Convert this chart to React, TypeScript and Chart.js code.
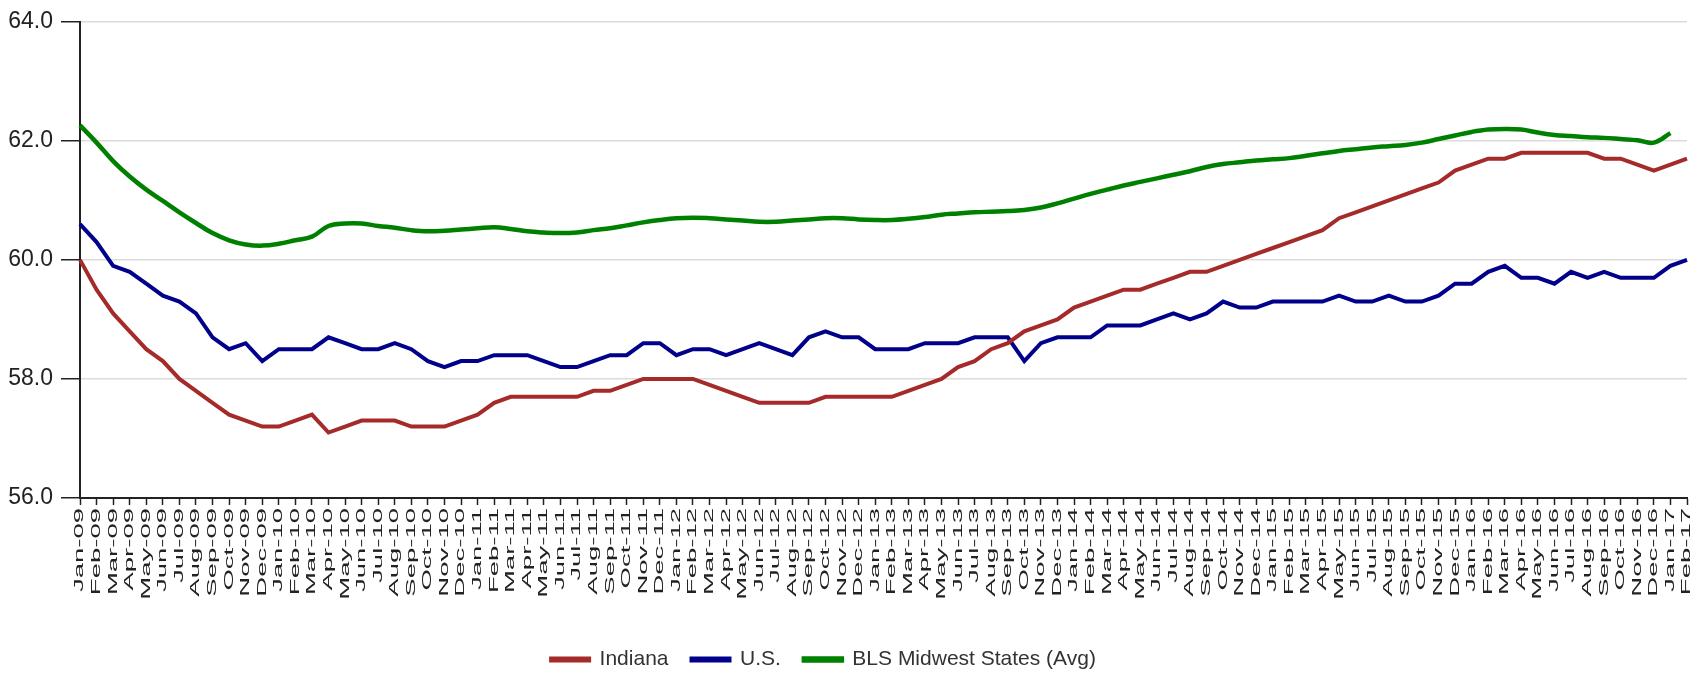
import React, { useEffect, useRef } from 'react';
import { Chart, registerables } from 'chart.js';

Chart.register(...registerables);

const categories: string[] = [
  'Jan-09','Feb-09','Mar-09','Apr-09','May-09','Jun-09','Jul-09','Aug-09','Sep-09','Oct-09','Nov-09','Dec-09',
  'Jan-10','Feb-10','Mar-10','Apr-10','May-10','Jun-10','Jul-10','Aug-10','Sep-10','Oct-10','Nov-10','Dec-10',
  'Jan-11','Feb-11','Mar-11','Apr-11','May-11','Jun-11','Jul-11','Aug-11','Sep-11','Oct-11','Nov-11','Dec-11',
  'Jan-12','Feb-12','Mar-12','Apr-12','May-12','Jun-12','Jul-12','Aug-12','Sep-12','Oct-12','Nov-12','Dec-12',
  'Jan-13','Feb-13','Mar-13','Apr-13','May-13','Jun-13','Jul-13','Aug-13','Sep-13','Oct-13','Nov-13','Dec-13',
  'Jan-14','Feb-14','Mar-14','Apr-14','May-14','Jun-14','Jul-14','Aug-14','Sep-14','Oct-14','Nov-14','Dec-14',
  'Jan-15','Feb-15','Mar-15','Apr-15','May-15','Jun-15','Jul-15','Aug-15','Sep-15','Oct-15','Nov-15','Dec-15',
  'Jan-16','Feb-16','Mar-16','Apr-16','May-16','Jun-16','Jul-16','Aug-16','Sep-16','Oct-16','Nov-16','Dec-16',
  'Jan-17','Feb-17',
];

const indiana: number[] = [
  60.0, 59.5, 59.1, 58.8, 58.5, 58.3, 58.0, 57.8, 57.6, 57.4, 57.3, 57.2,
  57.2, 57.3, 57.4, 57.1, 57.2, 57.3, 57.3, 57.3, 57.2, 57.2, 57.2, 57.3,
  57.4, 57.6, 57.7, 57.7, 57.7, 57.7, 57.7, 57.8, 57.8, 57.9, 58.0, 58.0,
  58.0, 58.0, 57.9, 57.8, 57.7, 57.6, 57.6, 57.6, 57.6, 57.7, 57.7, 57.7,
  57.7, 57.7, 57.8, 57.9, 58.0, 58.2, 58.3, 58.5, 58.6, 58.8, 58.9, 59.0,
  59.2, 59.3, 59.4, 59.5, 59.5, 59.6, 59.7, 59.8, 59.8, 59.9, 60.0, 60.1,
  60.2, 60.3, 60.4, 60.5, 60.7, 60.8, 60.9, 61.0, 61.1, 61.2, 61.3, 61.5,
  61.6, 61.7, 61.7, 61.8, 61.8, 61.8, 61.8, 61.8, 61.7, 61.7, 61.6, 61.5,
  61.6, 61.7,
];

const us: number[] = [
  60.6, 60.3, 59.9, 59.8, 59.6, 59.4, 59.3, 59.1, 58.7, 58.5, 58.6, 58.3,
  58.5, 58.5, 58.5, 58.7, 58.6, 58.5, 58.5, 58.6, 58.5, 58.3, 58.2, 58.3,
  58.3, 58.4, 58.4, 58.4, 58.3, 58.2, 58.2, 58.3, 58.4, 58.4, 58.6, 58.6,
  58.4, 58.5, 58.5, 58.4, 58.5, 58.6, 58.5, 58.4, 58.7, 58.8, 58.7, 58.7,
  58.5, 58.5, 58.5, 58.6, 58.6, 58.6, 58.7, 58.7, 58.7, 58.3, 58.6, 58.7,
  58.7, 58.7, 58.9, 58.9, 58.9, 59.0, 59.1, 59.0, 59.1, 59.3, 59.2, 59.2,
  59.3, 59.3, 59.3, 59.3, 59.4, 59.3, 59.3, 59.4, 59.3, 59.3, 59.4, 59.6,
  59.6, 59.8, 59.9, 59.7, 59.7, 59.6, 59.8, 59.7, 59.8, 59.7, 59.7, 59.7,
  59.9, 60.0,
];

const midwest: (number | null)[] = [
  62.26, 61.97, 61.66, 61.40, 61.18, 60.99, 60.80, 60.62, 60.45, 60.33, 60.26, 60.24,
  60.27, 60.33, 60.39, 60.57, 60.61, 60.61, 60.57, 60.54, 60.50, 60.48, 60.49, 60.51,
  60.53, 60.55, 60.52, 60.48, 60.46, 60.45, 60.46, 60.50, 60.53, 60.58, 60.63, 60.67,
  60.70, 60.71, 60.70, 60.68, 60.66, 60.64, 60.64, 60.66, 60.68, 60.70, 60.70, 60.68,
  60.67, 60.67, 60.69, 60.72, 60.76, 60.78, 60.80, 60.81, 60.82, 60.84, 60.88, 60.95,
  61.03, 61.11, 61.18, 61.25, 61.31, 61.37, 61.43, 61.49, 61.56, 61.61, 61.64, 61.67,
  61.69, 61.71, 61.75, 61.79, 61.83, 61.86, 61.89, 61.91, 61.93, 61.97, 62.03, 62.09,
  62.15, 62.19, 62.20, 62.19, 62.14, 62.10, 62.08, 62.06, 62.05, 62.03, 62.01, 61.97,
  62.13, null,
];

const seriesNames = ['Indiana', 'U.S.', 'BLS Midwest States (Avg)'];
const seriesColors = ['#A52A2A', '#00008B', '#008000'];
const yMin = 56;
const yMax = 64;
const yStep = 2;

const FONT = "'Liberation Sans', Arial, sans-serif";

const stretchedXLabels = {
  id: 'stretchedXLabels',
  afterDraw(chart: any) {
    const xs = chart.scales.x;
    const ctx = chart.ctx as CanvasRenderingContext2D;
    ctx.save();
    ctx.fillStyle = '#222';
    ctx.font = `12.5px ${FONT}`;
    ctx.textAlign = 'right';
    ctx.textBaseline = 'middle';
    const top = xs.top + 10;
    categories.forEach((lab, i) => {
      const x = xs.getPixelForValue(i);
      ctx.save();
      ctx.translate(x, top);
      ctx.rotate(-Math.PI / 2);
      ctx.scale(2.2, 1);
      ctx.fillText(lab, 0, 0);
      ctx.restore();
    });
    ctx.restore();
  },
};

const shiftLegend = {
  id: 'shiftLegend',
  afterLayout(chart: any) {
    const lg = chart.legend;
    if (lg) {
      lg.left -= 20;
      lg.right -= 20;
    }
  },
};

export default function App() {
  const ref = useRef<HTMLCanvasElement | null>(null);

  useEffect(() => {
    document.body.style.margin = '0';
    const canvas = ref.current;
    if (!canvas) return;
    const chart = new Chart(canvas, {
      type: 'line',
      data: {
        labels: categories,
        datasets: [
          {
            label: seriesNames[0],
            data: indiana,
            borderColor: seriesColors[0],
            backgroundColor: seriesColors[0],
            borderWidth: 4,
            pointRadius: 0,
            tension: 0,
          },
          {
            label: seriesNames[1],
            data: us,
            borderColor: seriesColors[1],
            backgroundColor: seriesColors[1],
            borderWidth: 4,
            pointRadius: 0,
            tension: 0,
          },
          {
            label: seriesNames[2],
            data: midwest,
            borderColor: seriesColors[2],
            backgroundColor: seriesColors[2],
            borderWidth: 4.5,
            pointRadius: 0,
            tension: 0.4,
          },
        ],
      },
      options: {
        animation: false,
        responsive: false,
        devicePixelRatio: 1,
        layout: { padding: { top: 20, right: 15, left: 0, bottom: -5 } },
        font: { family: FONT },
        plugins: {
          tooltip: { enabled: false },
          legend: {
            position: 'bottom',
            align: 'center',
            labels: {
              boxWidth: 38,
              boxHeight: 2,
              padding: 23,
              color: '#333',
              font: { family: FONT, size: 21 },
            },
          },
        },
        scales: {
          x: {
            type: 'category',
            offset: false,
            afterFit: (scale: any) => {
              scale.height = 128;
            },
            border: { display: true, color: '#222', width: 2 },
            grid: {
              display: true,
              drawOnChartArea: false,
              drawTicks: true,
              tickLength: 7,
              tickColor: '#222',
              tickWidth: 1.5,
            },
            ticks: { display: false, autoSkip: false },
          },
          y: {
            min: yMin,
            max: yMax,
            afterFit: (scale: any) => {
              scale.width = 80;
            },
            border: { display: true, color: '#222', width: 2 },
            grid: {
              color: '#dcdcdc',
              lineWidth: 1.5,
              drawTicks: true,
              tickLength: 19,
              tickColor: '#222',
              tickWidth: 1.5,
            },
            ticks: {
              stepSize: yStep,
              padding: 8,
              color: '#222',
              font: { family: FONT, size: 23 },
              callback: (v: any) => Number(v).toFixed(1),
            },
          },
        },
      },
      plugins: [stretchedXLabels, shiftLegend],
    } as any);
    return () => chart.destroy();
  }, []);

  return (
    <div style={{ position: 'absolute', left: 0, top: 0, width: 1702, height: 675, background: '#fff' }}>
      <canvas ref={ref} width={1702} height={675} style={{ width: 1702, height: 675, display: 'block' }} />
    </div>
  );
}
